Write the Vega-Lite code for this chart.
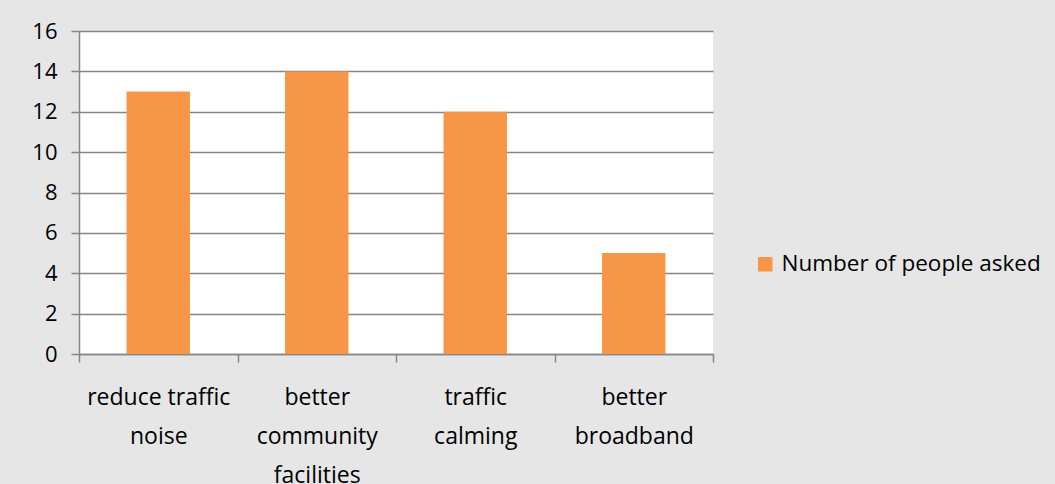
{
  "$schema": "https://vega.github.io/schema/vega-lite/v6.json",
  "width": 634,
  "height": 323,
  "autosize": {"type": "none"},
  "padding": {"left": 79, "top": 31, "right": 342, "bottom": 130},
  "background": "#E6E6E6",
  "data": {
    "values": [
      {"category": "reduce traffic|noise", "count": 13, "series": "Number of people asked"},
      {"category": "better|community|facilities", "count": 14, "series": "Number of people asked"},
      {"category": "traffic|calming", "count": 12, "series": "Number of people asked"},
      {"category": "better|broadband", "count": 5, "series": "Number of people asked"}
    ]
  },
  "mark": {"type": "bar", "width": {"band": 0.4}},
  "encoding": {
    "x": {
      "field": "category",
      "type": "nominal",
      "sort": null,
      "scale": {"paddingInner": 0, "paddingOuter": 0},
      "axis": {
        "title": null,
        "labelAngle": 0,
        "labelExpr": "datum.value ? split(datum.value, '|') : ''",
        "labelFont": "Open Sans",
        "labelFontSize": 23,
        "labelLineHeight": 39,
        "labelColor": "#000000",
        "labelPadding": 24,
        "labelBaseline": "top",
        "tickBand": "extent",
        "tickSize": 8,
        "tickColor": "#868686",
        "tickWidth": 1.5,
        "domainColor": "#868686",
        "domainWidth": 1.5,
        "grid": false
      }
    },
    "y": {
      "field": "count",
      "type": "quantitative",
      "scale": {"domain": [0, 16], "nice": false},
      "axis": {
        "title": null,
        "values": [0, 2, 4, 6, 8, 10, 12, 14, 16],
        "labelFont": "Open Sans",
        "labelFontSize": 22,
        "labelColor": "#000000",
        "labelPadding": 14,
        "tickSize": 8,
        "tickColor": "#868686",
        "tickWidth": 1.5,
        "domainColor": "#868686",
        "domainWidth": 1.5,
        "grid": true,
        "gridColor": "#868686",
        "gridWidth": 1.5
      }
    },
    "color": {
      "field": "series",
      "type": "nominal",
      "scale": {"range": ["#F79646"]},
      "legend": {
        "title": null,
        "orient": "none",
        "legendX": 675,
        "legendY": 222,
        "symbolType": "square",
        "symbolSize": 210,
        "symbolStrokeWidth": 0,
        "labelFont": "Open Sans",
        "labelFontSize": 22.5,
        "labelColor": "#000000",
        "labelOffset": 5,
        "labelLimit": 0
      }
    }
  },
  "config": {
    "view": {"fill": "#FFFFFF", "stroke": null}
  }
}
